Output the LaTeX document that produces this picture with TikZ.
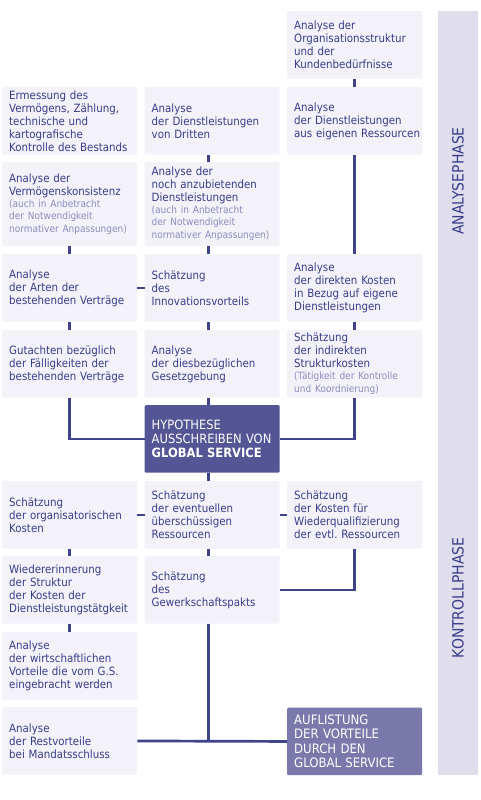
\documentclass[tikz,border=0pt]{standalone}
\usepackage{fontspec}
\setmainfont{DejaVu Sans Condensed}
\frenchspacing
\hyphenpenalty=10000
\definecolor{boxfill}{HTML}{F3F2F8}
\definecolor{sidefill}{HTML}{E0DEEC}
\definecolor{txt}{HTML}{383D8A}
\definecolor{txtlight}{HTML}{8C8CC0}
\definecolor{linecol}{HTML}{3F4388}
\definecolor{darkbox}{HTML}{545594}
\definecolor{midbox}{HTML}{7B79AB}
\newcommand{\lighttxt}{\color{txtlight}\fontsize{10}{12}\selectfont}
\begin{document}
\begin{tikzpicture}[x=1pt,y=-1pt,
  box/.style={anchor=north west, fill=boxfill, rounded corners=1.2pt,
    minimum width=135pt, minimum height=67.5pt, text width=121pt,
    inner xsep=7pt, inner ysep=0pt, align=left, text=txt,
    font=\fontsize{11.4}{13}\selectfont},
  tallbox/.style={box, minimum height=84pt},
  darkbox/.style={box, fill=darkbox, text=white, font=\fontsize{12.8}{14.3}\selectfont},
  midbox/.style={box, fill=midbox, text=white, font=\fontsize{13}{14.4}\selectfont},
  phase/.style={rotate=90, text=txt, font=\fontsize{15.5}{16}\selectfont, inner sep=0pt},
  conn/.style={draw=linecol, line width=2.7pt}
]
\useasboundingbox (0,0) rectangle (480,800);
\fill[white] (0,0) rectangle (480,800);
\fill[sidefill] (438,11) rectangle (478,775);
\node[phase] (ana) at (458,181) {ANALYSEPHASE};
\node[phase] (kon) at (458,598) {KONTROLLPHASE};

% row 0
\node[box] (c3r0) at (287,11) {Analyse der\\Organisationsstruktur\\und der\\Kundenbedürfnisse};
% row 1
\node[box] (c1r1) at (2,87) {Ermessung des\\Vermögens, Zählung,\\technische und\\kartografische\\Kontrolle des Bestands};
\node[box] (c2r1) at (144.5,87) {Analyse\\der Dienstleistungen\\von Dritten};
\node[box] (c3r1) at (287,87) {Analyse\\der Dienstleistungen\\\mbox{aus eigenen Ressourcen}};
% row 2
\node[tallbox] (c1r2) at (2,162) {Analyse der\\Vermögenskonsistenz\\{\lighttxt (auch in Anbetracht\\der Notwendigkeit\\normativer Anpassungen)}};
\node[tallbox] (c2r2) at (144.5,162) {Analyse der\\noch anzubietenden\\Dienstleistungen\\{\lighttxt (auch in Anbetracht\\der Notwendigkeit\\normativer Anpassungen)}};
% row 3
\node[box] (c1r3) at (2,254) {Analyse\\der Arten der\\bestehenden Verträge};
\node[box] (c2r3) at (144.5,254) {Schätzung\\des\\Innovationsvorteils};
\node[box] (c3r3) at (287,254) {Analyse\\der direkten Kosten\\in Bezug auf eigene\\Dienstleistungen};
% row 4
\node[box] (c1r4) at (2,330) {Gutachten bezüglich\\der Fälligkeiten der\\bestehenden Verträge};
\node[box] (c2r4) at (144.5,330) {Analyse\\der diesbezüglichen\\Gesetzgebung};
\node[box] (c3r4) at (287,330) {Schätzung\\der indirekten\\Strukturkosten\\{\lighttxt (Tätigkeit der Kontrolle\\und Koordnierung)}};
% hypothesis
\node[darkbox] (hyp) at (144.5,405) {HYPOTHESE\\\mbox{AUSSCHREIBEN VON}\\\textbf{GLOBAL~SERVICE}};
% row 5
\node[box] (c1r5) at (2,481) {Schätzung\\der organisatorischen\\Kosten};
\node[box] (c2r5) at (144.5,481) {Schätzung\\der eventuellen\\überschüssigen\\Ressourcen};
\node[box] (c3r5) at (287,481) {Schätzung\\der Kosten für\\Wiederqualifizierung\\der evtl. Ressourcen};
% row 6
\node[box] (c1r6) at (2,556) {Wiedererinnerung\\der Struktur\\der Kosten der\\Dienstleistungstätgkeit};
\node[box] (c2r6) at (144.5,556) {Schätzung\\des\\Gewerkschaftspakts};
% row 7
\node[box] (c1r7) at (2,632) {Analyse\\der wirtschaftlichen\\Vorteile die vom G.S.\\eingebracht werden};
% row 8
\node[box] (c1r8) at (2,707) {Analyse\\der Restvorteile\\bei Mandatsschluss};
\node[midbox] (c3r8) at (287,707.5) {AUFLISTUNG\\DER VORTEILE\\DURCH DEN\\GLOBAL SERVICE};

% connectors
\draw[conn] (c3r0.south) -- (c3r1.north);
\draw[conn] (c3r1.south) -- (c3r3.north);
\draw[conn] (c3r3.south) -- (c3r4.north);
\draw[conn] (c3r4.south) |- (hyp.east);
\draw[conn] (c1r2.south) -- (c1r3.north);
\draw[conn] (c1r3.south) -- (c1r4.north);
\draw[conn] (c1r4.south) |- (hyp.west);
\draw[conn] (c1r3.east) -- (c2r3.west);
\draw[conn] ([xshift=-4pt]c2r1.south) -- ([xshift=-4pt]c2r2.north);
\draw[conn] ([xshift=-4pt]c2r2.south) -- ([xshift=-4pt]c2r3.north);
\draw[conn] ([xshift=-4pt]c2r3.south) -- ([xshift=-4pt]c2r4.north);
\draw[conn] ([xshift=-4pt]c2r4.south) -- ([xshift=-4pt]hyp.north);
\draw[conn] ([xshift=-4pt]hyp.south) -- ([xshift=-4pt]c2r5.north);
\draw[conn] ([xshift=-4pt]c2r5.south) -- ([xshift=-4pt]c2r6.north);
\draw[conn] (c1r5.east) -- (c2r5.west);
\draw[conn] (c2r5.east) -- (c3r5.west);
\draw[conn] (c1r5.south) -- (c1r6.north);
\draw[conn] (c1r6.south) -- (c1r7.north);
\draw[conn] (c3r5.south) |- (c2r6.east);
\draw[conn] (c1r8.east) -- (c3r8.west);
\coordinate (j) at ([xshift=-4pt]c2r6.south |- c1r8.east);
\draw[conn] ([xshift=-4pt]c2r6.south) -- (j);
\end{tikzpicture}
\end{document}
